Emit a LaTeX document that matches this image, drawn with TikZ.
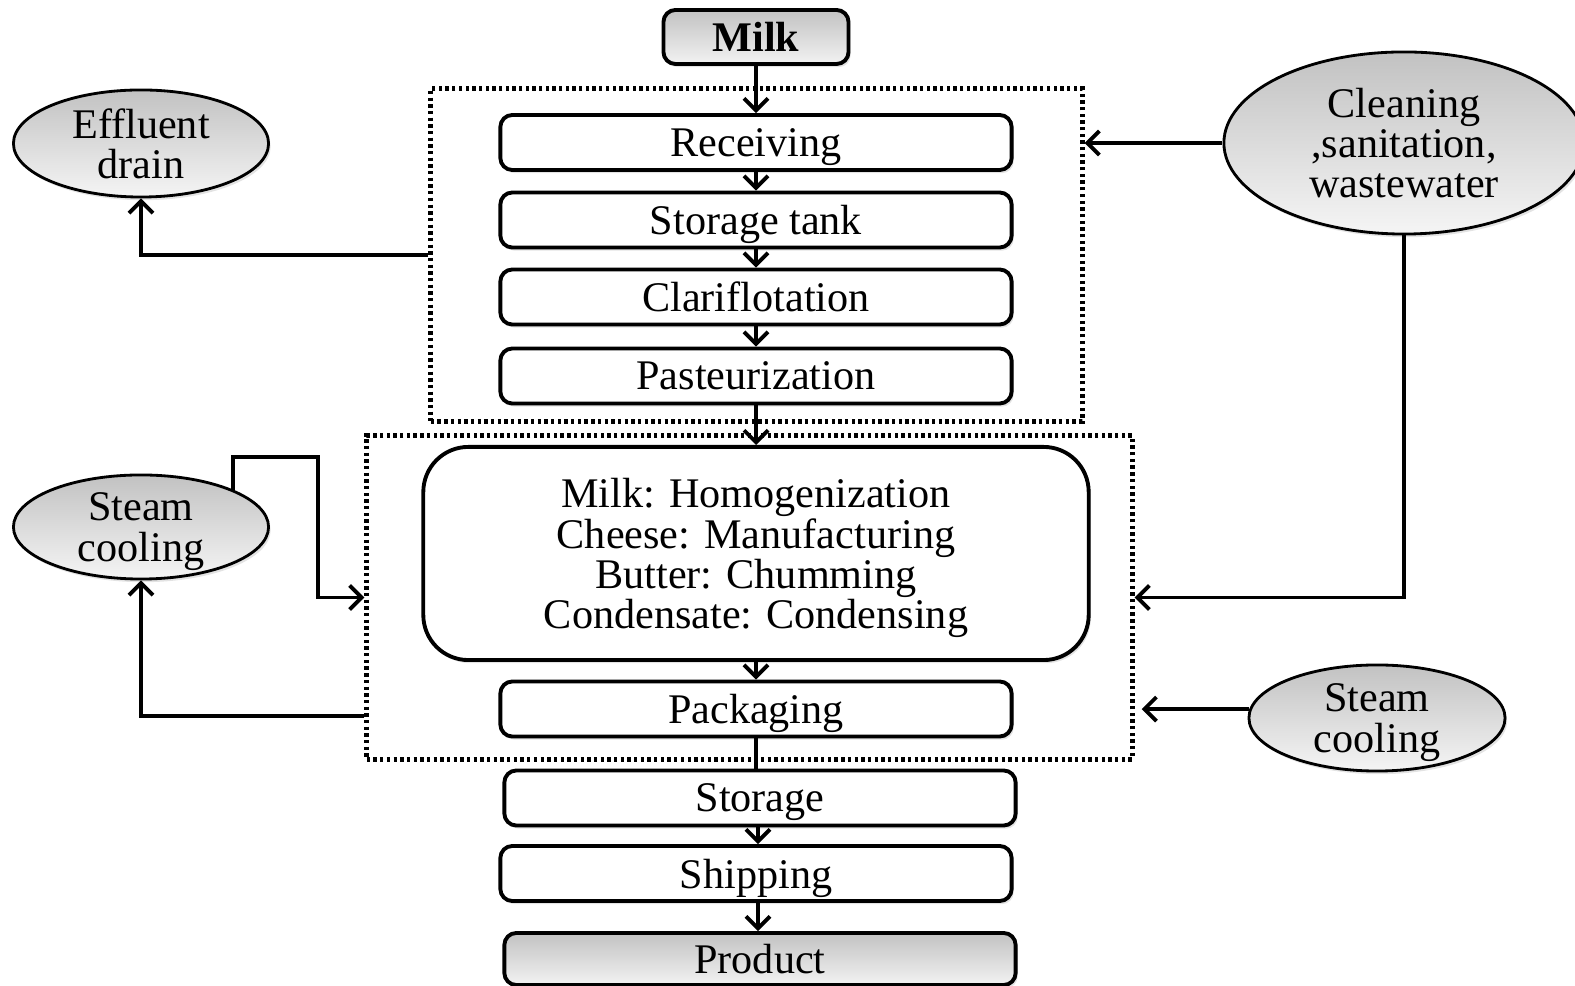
\documentclass[tikz,border=0pt]{standalone}
\usepackage{fontspec}
\setmainfont{Liberation Serif}
\usetikzlibrary{arrows.meta,shapes.geometric,shadows}

\begin{document}
\begin{tikzpicture}[x=0.01cm,y=-0.01cm,
  txt/.style={font=\fontsize{12}{11.4}\selectfont, align=center, text depth=0pt},
  softshadow/.style={drop shadow={opacity=0.22, shadow xshift=0.6pt, shadow yshift=-0.9pt}},
  stepbox/.style={txt, draw, line width=1.1pt, rounded corners=0.12cm,
    minimum width=5.11cm, minimum height=0.55cm, inner sep=0pt, fill=white, softshadow},
  endbox/.style={stepbox, top color=black!24, bottom color=black!5},
  bigbox/.style={txt, draw, line width=1.1pt, rounded corners=0.45cm,
    minimum width=6.65cm, minimum height=2.13cm, inner sep=0pt, fill=white, softshadow},
  sidenode/.style={txt, ellipse, draw, line width=0.8pt, inner sep=0pt,
    top color=black!24, bottom color=black!4, softshadow},
  groupbox/.style={draw, line width=1.4pt, dash pattern=on 0.95pt off 0.95pt, inner sep=0pt},
  arr/.style={line width=1.1pt, -{Straight Barb[length=1.2mm,width=2.4mm]}},
  plain/.style={line width=1.1pt}
]
\useasboundingbox (0,0) rectangle (1575,986);

% dotted process groups
\node[groupbox, minimum width=6.51cm, minimum height=3.32cm] (grpA) at (756.5,255) {};
\node[groupbox, minimum width=7.65cm, minimum height=3.23cm] (grpB) at (749.5,597.5) {};

% main process column
\node[endbox, minimum width=1.85cm, minimum height=0.54cm] (milk) at (756,37) {\bfseries Milk};
\node[stepbox] (rec)  at (756,142.5) {Receiving};
\node[stepbox] (tank) at (756,220)   {Storage tank};
\node[stepbox] (clar) at (756,297)   {Clariflotation};
\node[stepbox] (past) at (756,376)   {Pasteurization};
\node[bigbox]  (big)  at (756,553.5) {Milk: Homogenization\\Cheese: Manufacturing\\Butter: Chumming\\Condensate: Condensing};
\node[stepbox] (pack) at (756,709)   {Packaging};
\node[stepbox] (stor) at (760,798)   {Storage};
\node[stepbox] (ship) at (756,873.5) {Shipping};
\node[endbox, minimum height=0.52cm] (prod) at (760,959) {Product};

% side streams
\node[sidenode, minimum width=2.55cm, minimum height=1.07cm] (eff) at (141,143.5) {Effluent\\drain};
\node[sidenode, minimum width=3.6cm, minimum height=1.82cm] (clean) at (1404,143) {Cleaning\\,sanitation,\\wastewater};
\node[sidenode, minimum width=2.55cm, minimum height=1.04cm] (steamL) at (141,527) {Steam\\cooling};
\node[sidenode, minimum width=2.56cm, minimum height=1.06cm] (steamR) at (1377,718) {Steam\\cooling};

% main flow
\draw[arr] (milk.south) -- (milk.south |- rec.north);
\draw[arr] (rec) -- (tank);
\draw[arr] (tank) -- (clar);
\draw[arr] (clar) -- (past);
\draw[arr] (past) -- (big);
\draw[arr] (big) -- (pack);
\draw[plain] (pack.south) -- (pack.south |- stor.north);
\draw[arr] ([xshift=-0.02cm]stor.south) -- ([xshift=-0.02cm]stor.south |- ship.north);
\draw[arr] ([xshift=0.02cm]ship.south) -- ([xshift=0.02cm]ship.south |- prod.north);

% side connections
\draw[arr] (grpA.west) -| (eff.south);
\draw[arr] (clean.west) -- (clean.west -| grpA.east);
\draw[arr] (clean.south) |- (grpB.east);
\coordinate (loopTop) at (318,457);
\draw[arr] (steamL.22) |- (loopTop) |- (grpB.west);
\draw[arr] (grpB.west |- 0,716) -| (steamL.south);
\draw[arr] (steamR.176) -- ([xshift=0.07cm]steamR.176 -| grpB.east);
\end{tikzpicture}
\end{document}
